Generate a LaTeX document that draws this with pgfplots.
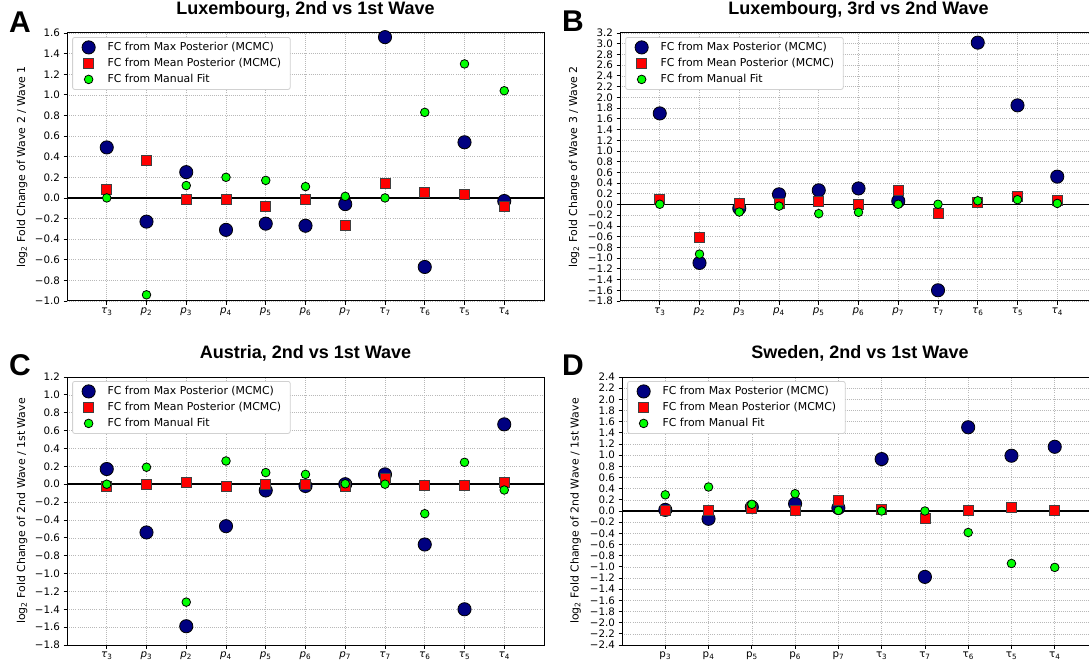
\documentclass[border=0pt]{standalone}
\usepackage{fontspec}
\setmainfont{DejaVu Sans}
\newfontfamily\arialfont{Liberation Sans}
\usepackage{pgfplots}
\usepackage{pgfplotstable}
\pgfplotsset{compat=1.18}

\definecolor{mnavy}{HTML}{000080}
\definecolor{mred}{HTML}{FF0000}
\definecolor{mlime}{HTML}{00FF00}
\definecolor{gridgray}{HTML}{B8B8B8}

\newcommand{\fs}{\fontsize{10.3}{12}\selectfont}
\newcommand{\fl}{\fontsize{10.9}{13}\selectfont}
\newcommand{\ta}[1]{\textit{τ}\textsubscript{#1}}
\newcommand{\pa}[1]{\textit{p}\textsubscript{#1}}
\newcommand{\tu}[1]{τ\textsubscript{#1}}
\newcommand{\pu}[1]{p\textsubscript{#1}}

\pgfplotstableread{
x max mean man
0 0.49 0.08 0.00
1 -0.23 0.36 -0.94
2 0.25 -0.01 0.12
3 -0.31 -0.01 0.20
4 -0.25 -0.08 0.17
5 -0.27 -0.01 0.11
6 -0.06 -0.27 0.015
7 1.56 0.14 0.00
8 -0.67 0.055 0.83
9 0.54 0.03 1.30
10 -0.03 -0.08 1.04
}\dataA

\pgfplotstableread{
x max mean man
0 1.70 0.10 0.005
1 -1.09 -0.62 -0.925
2 -0.07 0.02 -0.14
3 0.19 0.03 -0.03
4 0.265 0.065 -0.17
5 0.30 0.01 -0.145
6 0.065 0.265 0.005
7 -1.60 -0.165 0.005
8 3.02 0.045 0.07
9 1.85 0.155 0.09
10 0.52 0.07 0.02
}\dataB

\pgfplotstableread{
x max mean man
0 0.17 -0.02 0.00
1 -0.54 0.00 0.19
2 -1.59 0.02 -1.32
3 -0.47 -0.02 0.26
4 -0.07 0.00 0.13
5 -0.02 0.00 0.11
6 0.00 -0.03 0.005
7 0.11 0.07 0.00
8 -0.675 -0.015 -0.33
9 -1.40 -0.015 0.245
10 0.67 0.02 -0.065
}\dataC

\pgfplotstableread{
x max mean man
0 0.02 0.01 0.29
1 -0.14 0.015 0.43
2 0.07 0.04 0.12
3 0.13 0.015 0.31
4 0.055 0.19 0.01
5 0.93 0.025 0.00
6 -1.18 -0.13 0.00
7 1.50 0.015 -0.385
8 0.99 0.07 -0.94
9 1.15 0.005 -1.01
}\dataD

\pgfplotsset{
  fc/.style={
    scale only axis, height=268pt,
    xmin=-1,
    clip=false,
    axis line style={line width=1pt, black},
    tick align=outside, tick pos=left,
    major tick length=3.5pt,
    tick style={black, line width=0.8pt},
    grid=major,
    major grid style={gridgray, line width=0.6pt, dash pattern=on 0.6pt off 1.5pt},
    ticklabel style={font=\fs},
    title style={font=\arialfont\bfseries\fontsize{18}{20}\selectfont, at={(axis description cs:0.5,1)}, anchor=base, yshift=12.5pt},
    every axis y label/.style={rotate=90, anchor=center, font=\fl},
    legend cell align=left,
    legend style={
      at={(axis description cs:0.011,0.985)}, anchor=north west,
      draw=black!18, fill=white, rounded corners=2pt, line width=0.8pt,
      font=\fl, inner xsep=7pt, inner ysep=3pt, row sep=2pt,
      nodes={font=\fl, inner xsep=2pt, inner ysep=2pt, text height=7.8pt, text depth=2.2pt}
    },
    legend image code/.code={\path[draw=none,fill=none] (-9pt,-4pt) (17pt,4pt); \draw[##1, sharp corners] plot coordinates {(0pt,0pt)};},
  },
  maxst/.style={only marks, mark=*, mark size=6.6pt, mark options={fill=mnavy, draw=black, line width=0.8pt}},
  meanst/.style={only marks, mark=square*, mark size=5pt, mark options={fill=mred, draw=black!75, line width=0.8pt, sharp corners}},
  manst/.style={only marks, mark=*, mark size=4.3pt, mark options={fill=mlime, draw=black, line width=0.8pt}},
}

\newcommand{\threeplots}[1]{%
\addplot[maxst] table[x=x,y=max]{#1};
\addlegendentry{\fl FC from Max Posterior (MCMC)}
\addplot[meanst] table[x=x,y=mean]{#1};
\addlegendentry{\fl FC from Mean Posterior (MCMC)}
\addplot[manst] table[x=x,y=man]{#1};
\addlegendentry{\fl FC from Manual Fit}
}

\begin{document}
\begin{tikzpicture}
\useasboundingbox (0pt,0pt) rectangle (1089pt,665pt);

% Panel A
\begin{axis}[fc, at={(67pt,364pt)}, anchor=south west, width=477pt, xmax=11,
  ymin=-1, ymax=1.6,
  ytick={-1,-0.8,-0.6,-0.4,-0.2,0,0.2,0.4,0.6,0.8,1,1.2,1.4,1.6},
  yticklabels={−1.0,−0.8,−0.6,−0.4,−0.2,0.0,0.2,0.4,0.6,0.8,1.0,1.2,1.4,1.6},
  xtick={0,...,10},
  xticklabels={\ta3,\pa2,\pa3,\pa4,\pa5,\pa6,\pa7,\ta7,\ta6,\ta5,\ta4},
  title={Luxembourg, 2nd vs 1st Wave},
  ylabel={log\textsubscript{2} Fold Change of Wave 2 / Wave 1},
  every axis y label/.append style={at={(axis description cs:-0.0943,0.5)}},
]
\addplot[black, line width=1.8pt, forget plot] coordinates {(-1,0) (11,0)};
\addplot[maxst] table[x=x,y=max]{\dataA};
\addlegendentry{\fl FC from Max Posterior (MCMC)}
\addplot[meanst] table[x=x,y=mean]{\dataA};
\addlegendentry{\fl FC from Mean Posterior (MCMC)}
\addplot[manst] table[x=x,y=man]{\dataA};
\addlegendentry{\fl FC from Manual Fit}
\end{axis}

% Panel B
\begin{axis}[fc, at={(620pt,364pt)}, anchor=south west, width=477pt, xmax=11,
  ymin=-1.8, ymax=3.2,
  ytick={-1.8,-1.6,-1.4,-1.2,-1,-0.8,-0.6,-0.4,-0.2,0,0.2,0.4,0.6,0.8,1,1.2,1.4,1.6,1.8,2,2.2,2.4,2.6,2.8,3,3.2},
  yticklabels={−1.8,−1.6,−1.4,−1.2,−1.0,−0.8,−0.6,−0.4,−0.2,0.0,0.2,0.4,0.6,0.8,1.0,1.2,1.4,1.6,1.8,2.0,2.2,2.4,2.6,2.8,3.0,3.2},
  xtick={0,...,10},
  xticklabels={\ta3,\pa2,\pa3,\pa4,\pa5,\pa6,\pa7,\ta7,\ta6,\ta5,\ta4},
  title={Luxembourg, 3rd vs 2nd Wave},
  ylabel={log\textsubscript{2} Fold Change of Wave 3 / Wave 2},
  every axis y label/.append style={at={(axis description cs:-0.0962,0.5)}},
]
\addplot[black, line width=1.8pt, forget plot] coordinates {(-1,0) (11,0)};
\addplot[maxst] table[x=x,y=max]{\dataB};
\addlegendentry{\fl FC from Max Posterior (MCMC)}
\addplot[meanst] table[x=x,y=mean]{\dataB};
\addlegendentry{\fl FC from Mean Posterior (MCMC)}
\addplot[manst] table[x=x,y=man]{\dataB};
\addlegendentry{\fl FC from Manual Fit}
\end{axis}

% Panel C
\begin{axis}[fc, at={(67pt,20pt)}, anchor=south west, width=477pt, xmax=11,
  ymin=-1.8, ymax=1.2,
  ytick={-1.8,-1.6,-1.4,-1.2,-1,-0.8,-0.6,-0.4,-0.2,0,0.2,0.4,0.6,0.8,1,1.2},
  yticklabels={−1.8,−1.6,−1.4,−1.2,−1.0,−0.8,−0.6,−0.4,−0.2,0.0,0.2,0.4,0.6,0.8,1.0,1.2},
  xtick={0,...,10},
  xticklabels={\ta3,\pa3,\pa2,\pa4,\pa5,\pa6,\pa7,\ta7,\ta6,\ta5,\ta4},
  title={Austria, 2nd vs 1st Wave},
  ylabel={log\textsubscript{2} Fold Change of 2nd Wave / 1st Wave},
  every axis y label/.append style={at={(axis description cs:-0.0943,0.5)}},
]
\addplot[black, line width=1.8pt, forget plot] coordinates {(-1,0) (11,0)};
\addplot[maxst] table[x=x,y=max]{\dataC};
\addlegendentry{\fl FC from Max Posterior (MCMC)}
\addplot[meanst] table[x=x,y=mean]{\dataC};
\addlegendentry{\fl FC from Mean Posterior (MCMC)}
\addplot[manst] table[x=x,y=man]{\dataC};
\addlegendentry{\fl FC from Manual Fit}
\end{axis}

% Panel D
\begin{axis}[fc, at={(622pt,20pt)}, anchor=south west, width=476pt, xmax=10,
  ymin=-2.4, ymax=2.4,
  ytick={-2.4,-2.2,-2,-1.8,-1.6,-1.4,-1.2,-1,-0.8,-0.6,-0.4,-0.2,0,0.2,0.4,0.6,0.8,1,1.2,1.4,1.6,1.8,2,2.2,2.4},
  yticklabels={−2.4,−2.2,−2.0,−1.8,−1.6,−1.4,−1.2,−1.0,−0.8,−0.6,−0.4,−0.2,0.0,0.2,0.4,0.6,0.8,1.0,1.2,1.4,1.6,1.8,2.0,2.2,2.4},
  xtick={0,...,9},
  xticklabels={\pu3,\pu4,\pu5,\pu6,\pu7,\tu3,\tu7,\tu6,\tu5,\tu4},
  title={Sweden, 2nd vs 1st Wave},
  ylabel={log\textsubscript{2} Fold Change of 2nd Wave / 1st Wave},
  every axis y label/.append style={at={(axis description cs:-0.0977,0.5)}},
]
\addplot[black, line width=1.8pt, forget plot] coordinates {(-1,0) (10,0)};
\addplot[maxst] table[x=x,y=max]{\dataD};
\addlegendentry{\fl FC from Max Posterior (MCMC)}
\addplot[meanst] table[x=x,y=mean]{\dataD};
\addlegendentry{\fl FC from Mean Posterior (MCMC)}
\addplot[manst] table[x=x,y=man]{\dataD};
\addlegendentry{\fl FC from Manual Fit}
\end{axis}

\node[anchor=base west, inner sep=0pt, font=\arialfont\bfseries\fontsize{30}{32}\selectfont] at (9pt,632pt) {A};
\node[anchor=base west, inner sep=0pt, font=\arialfont\bfseries\fontsize{30}{32}\selectfont] at (562pt,633pt) {B};
\node[anchor=base west, inner sep=0pt, font=\arialfont\bfseries\fontsize{30}{32}\selectfont] at (9pt,290pt) {C};
\node[anchor=base west, inner sep=0pt, font=\arialfont\bfseries\fontsize{30}{32}\selectfont] at (562pt,290pt) {D};
\end{tikzpicture}
\end{document}
